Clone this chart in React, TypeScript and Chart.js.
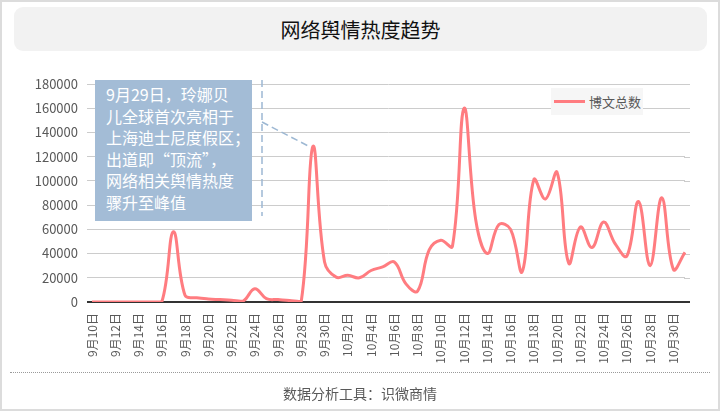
import React, { useEffect, useRef } from "react";
import { Chart, registerables } from "chart.js";

Chart.register(...registerables);

const titleText = "网络舆情热度趋势";
const footerText = "数据分析工具：识微商情";
const seriesName = "博文总数";

const categories = [
  "9月10日", "9月11日", "9月12日", "9月13日", "9月14日", "9月15日", "9月16日",
  "9月17日", "9月18日", "9月19日", "9月20日", "9月21日", "9月22日", "9月23日",
  "9月24日", "9月25日", "9月26日", "9月27日", "9月28日", "9月29日", "9月30日",
  "10月1日", "10月2日", "10月3日", "10月4日", "10月5日", "10月6日", "10月7日",
  "10月8日", "10月9日", "10月10日", "10月11日", "10月12日", "10月13日", "10月14日",
  "10月15日", "10月16日", "10月17日", "10月18日", "10月19日", "10月20日", "10月21日",
  "10月22日", "10月23日", "10月24日", "10月25日", "10月26日", "10月27日", "10月28日",
  "10月29日", "10月30日", "10月31日",
];

const postCounts = [
  0, 0, 0, 0, 0, 0, 0,
  58000, 5500, 3500, 2500, 2000, 1500, 800,
  11000, 2800, 2000, 1200, 800, 128500, 33000,
  20500, 22000, 20000, 26000, 29000, 33000, 15000,
  9000, 43000, 51000, 46000, 160000, 68000, 40000,
  64000, 60000, 25000, 101000, 85000, 107000, 32000,
  62000, 45000, 66000, 48000, 38000, 83000, 30000,
  86000, 27000, 41000,
];

const yMin = 0;
const yMax = 180000;
const yStep = 20000;

const calloutIndex = 19;
const calloutLines = [
  "9月29日，玲娜贝",
  "儿全球首次亮相于",
  "上海迪士尼度假区；",
  "出道即“顶流”，",
  "网络相关舆情热度",
  "骤升至峰值",
];

const FONT = '"Noto Sans CJK SC", "Noto Sans", sans-serif';
const LINE_COLOR = "#ff7c80";
const GRID_COLOR = "#cccccc";
const AXIS_COLOR = "#333333";

const gridTailPlugin = {
  id: "gridTail",
  beforeDatasetsDraw(chart: any) {
    const { ctx, chartArea, scales } = chart;
    const y = scales.y;
    ctx.save();
    y.ticks.forEach((t: any) => {
      const py = y.getPixelForValue(t.value);
      const isZero = t.value === 0;
      ctx.strokeStyle = isZero ? AXIS_COLOR : GRID_COLOR;
      ctx.lineWidth = isZero ? 2 : 1;
      ctx.beginPath();
      const yy = isZero ? Math.round(py) : Math.round(py) + 0.5;
      ctx.moveTo(chartArea.right - 1, yy);
      ctx.lineTo(chartArea.right + 5, yy);
      ctx.stroke();
    });
    ctx.restore();
  },
};

const calloutPlugin = {
  id: "calloutLeader",
  afterDatasetsDraw(chart: any) {
    const { ctx, scales } = chart;
    const x = scales.x;
    const y = scales.y;
    const px = x.getPixelForValue(calloutIndex);
    const py = y.getPixelForValue(postCounts[calloutIndex]);
    ctx.save();
    ctx.strokeStyle = "#9db8d3";
    ctx.lineWidth = 1.5;
    ctx.setLineDash([7, 4]);
    ctx.beginPath();
    ctx.moveTo(262, 80);
    ctx.lineTo(262, 216);
    ctx.moveTo(262, 122);
    ctx.lineTo(px - 4, py);
    ctx.stroke();
    ctx.restore();
  },
};

export default function App() {
  const canvasRef = useRef<HTMLCanvasElement | null>(null);

  useEffect(() => {
    document.body.style.margin = "0";
    const canvas = canvasRef.current;
    if (!canvas) return;
    const chart = new Chart(canvas, {
      type: "line",
      data: {
        labels: categories,
        datasets: [
          {
            label: seriesName,
            data: postCounts,
            borderColor: LINE_COLOR,
            backgroundColor: LINE_COLOR,
            borderWidth: 3,
            pointRadius: 0,
            pointHoverRadius: 0,
            tension: 0.4,
            fill: false,
          },
        ],
      },
      options: {
        animation: false,
        responsive: true,
        maintainAspectRatio: false,
        layout: {
          padding: { left: 0, right: 35, top: 84, bottom: 39 },
        },
        plugins: {
          legend: { display: false },
          tooltip: { enabled: false },
          title: { display: false },
        },
        scales: {
          x: {
            type: "category",
            offset: false,
            grid: { display: false, drawTicks: false, tickLength: 0 },
            border: { display: false },
            ticks: {
              autoSkip: false,
              minRotation: 90,
              maxRotation: 90,
              padding: 11,
              color: "#595959",
              font: { family: FONT, size: 12 },
              callback: (_v: any, i: number) => (i % 2 === 0 ? categories[i] : ""),
            },
            afterFit: (scale: any) => {
              scale.height = 70;
            },
          },
          y: {
            min: yMin,
            max: yMax,
            border: { display: false },
            grid: {
              drawTicks: true,
              tickLength: 5,
              color: (c: any) => (c.tick && c.tick.value === 0 ? AXIS_COLOR : GRID_COLOR),
              lineWidth: (c: any) => (c.tick && c.tick.value === 0 ? 2 : 1),
            },
            ticks: {
              stepSize: yStep,
              padding: 9,
              color: "#595959",
              font: { family: FONT, size: 13 },
              callback: (v: any) => String(v),
            },
            afterFit: (scale: any) => {
              scale.width = 92;
            },
          },
        },
      },
      plugins: [gridTailPlugin, calloutPlugin],
    });
    return () => chart.destroy();
  }, []);

  return (
    <div
      style={{
        position: "fixed",
        left: 0,
        top: 0,
        width: 720,
        height: 411,
        background: "#ffffff",
        fontFamily: FONT,
        overflow: "hidden",
      }}
    >
      <div style={{ position: "absolute", left: 0, top: 0, width: 720, height: 411 }}>
        <canvas ref={canvasRef} />
      </div>

      <div
        style={{
          position: "absolute",
          left: 14,
          top: 7,
          width: 693,
          height: 44,
          background: "#f2f2f2",
          borderRadius: 9,
          display: "flex",
          alignItems: "center",
          justifyContent: "center",
          fontSize: 20,
          color: "#111111",
        }}
      >
        {titleText}
      </div>

      <div
        style={{
          position: "absolute",
          left: 95,
          top: 80,
          width: 157,
          height: 141,
          background: "#a3bcd6",
          color: "#ffffff",
          fontSize: 16,
          lineHeight: "21.5px",
          padding: "4px 0 0 11px",
          boxSizing: "border-box",
          whiteSpace: "nowrap",
        }}
      >
        {calloutLines.map((l, i) => (
          <div key={i}>{l}</div>
        ))}
      </div>

      <div
        style={{
          position: "absolute",
          left: 551,
          top: 88,
          width: 92,
          height: 27,
          background: "#f6f6f6",
          display: "flex",
          alignItems: "center",
          fontSize: 13,
          color: "#595959",
          whiteSpace: "nowrap",
        }}
      >
        <div style={{ width: 31, height: 3, background: LINE_COLOR, marginLeft: 3, marginRight: 4, flexShrink: 0 }} />
        <span>{seriesName}</span>
      </div>

      <div
        style={{
          position: "absolute",
          left: 10,
          top: 372,
          width: 700,
          height: 0,
          borderTop: "1px dotted #9a9a9a",
        }}
      />

      <div
        style={{
          position: "absolute",
          left: 0,
          top: 382,
          width: 720,
          height: 22,
          lineHeight: "22px",
          textAlign: "center",
          fontSize: 14,
          color: "#595959",
        }}
      >
        {footerText}
      </div>

      <div
        style={{
          position: "absolute",
          left: 0,
          top: 0,
          width: 720,
          height: 411,
          boxSizing: "border-box",
          border: "2px solid #dcdcdc",
          pointerEvents: "none",
        }}
      />
    </div>
  );
}
